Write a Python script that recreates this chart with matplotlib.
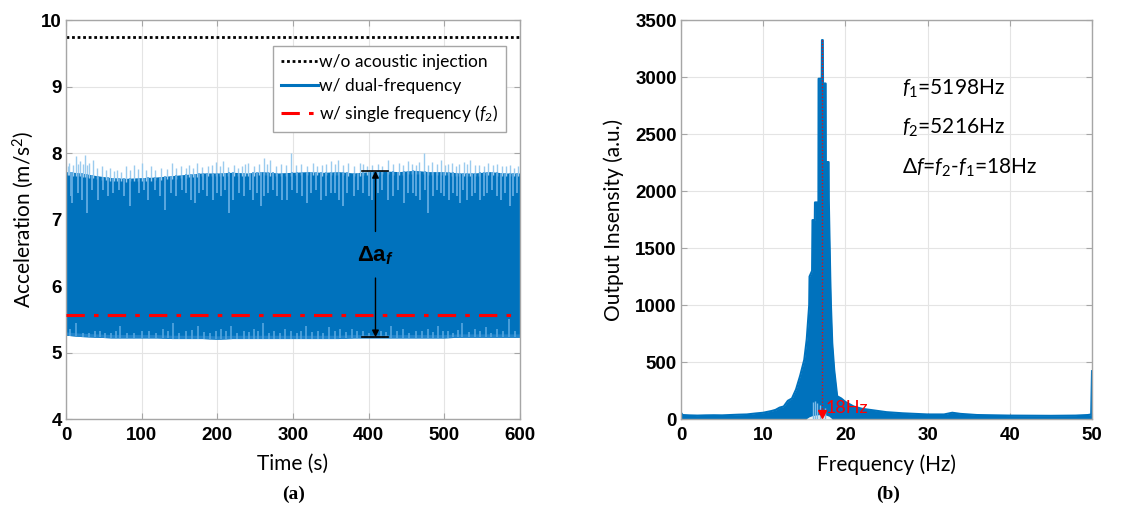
import numpy as np
import matplotlib
matplotlib.use('Agg')
import matplotlib.pyplot as plt

plt.rcParams['font.family'] = ['Lato', 'DejaVu Sans']
plt.rcParams['mathtext.fontset'] = 'custom'
plt.rcParams['mathtext.rm'] = 'Lato'
plt.rcParams['mathtext.it'] = 'Lato:italic'
plt.rcParams['mathtext.bf'] = 'Liberation Sans:bold'
plt.rcParams['mathtext.bfit'] = 'Liberation Sans:bold:italic'

BLUE = '#0072BD'
TICK_FONT = dict(fontweight='bold', family=['Liberation Sans', 'DejaVu Sans'], fontsize=13.5)

# ---- (a) acceleration, envelope of the dense dual-frequency signal ----
env_t = [0, 20, 40, 60, 80, 100, 120, 140, 160, 180, 200, 220, 240, 260, 280, 300,
         320, 340, 360, 380, 400, 420, 440, 460, 480, 500, 520, 540, 560, 580, 600]
env_upper = [7.72, 7.70, 7.66, 7.63, 7.62, 7.63, 7.64, 7.66, 7.68, 7.70, 7.70, 7.71, 7.70,
             7.72, 7.70, 7.71, 7.72, 7.71, 7.72, 7.70, 7.72, 7.73, 7.72, 7.74, 7.72, 7.72,
             7.70, 7.70, 7.72, 7.70, 7.70]
env_lower = [5.26, 5.24, 5.23, 5.22, 5.22, 5.22, 5.22, 5.21, 5.21, 5.21, 5.20, 5.21, 5.21,
             5.21, 5.21, 5.21, 5.21, 5.21, 5.21, 5.22, 5.22, 5.22, 5.22, 5.22, 5.22, 5.22,
             5.23, 5.23, 5.23, 5.23, 5.23]

# spikes poking above the band
spike_t = [2, 4, 9, 13, 16, 19, 22, 25, 28, 31, 36, 41, 48, 53, 58, 63, 67, 73, 79, 85,
           90, 95, 100, 106, 112, 118, 125, 133, 140, 146, 152, 158, 163, 168, 173, 180,
           188, 193, 198, 203, 208, 214, 222, 227, 232, 237, 241, 248, 255, 262, 266, 270,
           277, 284, 291, 298, 304, 310, 318, 326, 332, 338, 344, 350, 355, 360, 366, 373,
           380, 388, 393, 398, 405, 412, 418, 425, 432, 440, 446, 452, 457, 462, 467, 473,
           479, 484, 490, 496, 501, 505, 510, 515, 520, 526, 530, 534, 540, 546, 552, 558,
           564, 570, 576, 581, 587, 592, 597]
spike_v = [7.80, 7.85, 7.82, 7.95, 7.84, 7.88, 7.83, 7.97, 7.82, 7.85, 7.90, 7.78, 7.80,
           7.74, 7.78, 7.73, 7.75, 7.72, 7.80, 7.74, 7.82, 7.76, 7.85, 7.75, 7.80, 7.74,
           7.78, 7.76, 7.85, 7.78, 7.80, 7.77, 7.82, 7.78, 7.85, 7.79, 7.80, 7.82, 7.86,
           7.80, 7.88, 7.79, 7.82, 7.78, 7.80, 7.83, 7.85, 7.80, 7.83, 7.92, 7.84, 7.90,
           7.80, 7.84, 7.82, 8.00, 7.82, 7.84, 7.80, 7.85, 7.81, 7.82, 7.84, 7.88, 7.83,
           7.90, 7.82, 7.85, 7.81, 7.85, 7.83, 7.80, 7.82, 7.84, 7.81, 7.90, 7.83, 7.85,
           7.82, 7.88, 7.83, 7.82, 7.86, 8.00, 7.82, 7.86, 7.83, 7.90, 7.82, 7.84, 7.85,
           7.80, 7.83, 7.86, 7.84, 7.90, 7.82, 7.82, 7.80, 7.85, 7.82, 7.83, 7.80, 7.80,
           7.82, 7.78, 7.80]

# light streaks hanging down from the top of the band
streak_t = [6, 8, 16, 21, 28, 34, 42, 49, 55, 62, 70, 77, 85, 96, 103, 108, 118, 124,
            131, 139, 146, 153, 158, 165, 170, 176, 181, 187, 194, 200, 205, 210, 215, 221,
            228, 235, 243, 247, 253, 258, 262, 267, 273, 279, 286, 292, 299, 305, 312, 318,
            324, 331, 337, 344, 350, 356, 361, 366, 372, 380, 386, 393, 400, 405, 412, 418,
            425, 432, 439, 447, 452, 458, 463, 468, 474, 479, 485, 490, 495, 500, 506, 511,
            517, 521, 525, 530, 536, 541, 547, 552, 557, 563, 569, 575, 580, 587, 591, 596]
streak_v = [7.35, 7.25, 7.40, 7.30, 7.10, 7.45, 7.30, 7.45, 7.35, 7.40, 7.45, 7.35, 7.20,
            7.40, 7.45, 7.30, 7.45, 7.35, 7.15, 7.40, 7.35, 7.45, 7.40, 7.30, 7.25, 7.40,
            7.45, 7.35, 7.30, 7.40, 7.35, 7.45, 7.10, 7.30, 7.40, 7.35, 7.45, 7.30, 7.40,
            7.20, 7.35, 7.40, 7.45, 7.35, 7.30, 7.30, 7.45, 7.40, 7.35, 7.25, 7.40, 7.45,
            7.30, 7.35, 7.40, 7.40, 7.30, 7.20, 7.40, 7.35, 7.45, 7.40, 7.35, 7.30, 7.40,
            7.45, 7.30, 7.35, 7.45, 7.25, 7.40, 7.40, 7.35, 7.30, 7.45, 7.10, 7.35, 7.45,
            7.40, 7.35, 7.30, 7.40, 7.35, 7.25, 7.45, 7.30, 7.35, 7.40, 7.30, 7.35, 7.40,
            7.45, 7.35, 7.30, 7.40, 7.20, 7.35, 7.40]

# light streaks rising from the bottom of the band
bstreak_t = [5, 13, 22, 30, 38, 45, 52, 60, 66, 72, 81, 90, 100, 110, 119, 128, 135, 142,
             150, 158, 166, 175, 182, 190, 198, 205, 212, 218, 226, 235, 242, 248, 254, 260,
             268, 275, 283, 290, 298, 305, 311, 317, 325, 333, 340, 348, 355, 362, 370, 378,
             385, 392, 400, 408, 416, 423, 430, 438, 445, 453, 462, 470, 478, 485, 491, 498,
             505, 512, 518, 524, 532, 540, 547, 555, 562, 570, 578, 586, 593]
bstreak_v = [5.35, 5.45, 5.30, 5.30, 5.33, 5.32, 5.30, 5.30, 5.33, 5.40, 5.30, 5.30, 5.32,
             5.33, 5.30, 5.35, 5.33, 5.45, 5.30, 5.32, 5.34, 5.40, 5.31, 5.30, 5.33, 5.35,
             5.32, 5.40, 5.30, 5.33, 5.31, 5.35, 5.32, 5.45, 5.30, 5.32, 5.30, 5.35, 5.32,
             5.30, 5.33, 5.40, 5.31, 5.33, 5.30, 5.38, 5.32, 5.35, 5.31, 5.35, 5.32, 5.33,
             5.30, 5.32, 5.33, 5.31, 5.40, 5.32, 5.35, 5.30, 5.32, 5.33, 5.35, 5.31, 5.40,
             5.32, 5.33, 5.30, 5.34, 5.45, 5.31, 5.35, 5.32, 5.38, 5.30, 5.35, 5.32, 5.50,
             5.33]

no_injection = 9.75
single_freq = 5.56
delta_t = 409
delta_top = 7.73
delta_bot = 5.23

# ---- (b) spectrum envelope ----
spec_f = [0.0, 0.2, 1, 2, 3, 4, 5, 6, 7, 8, 9, 10, 11, 11.5, 12, 12.5, 13, 13.5, 14,
          14.5, 15, 15.3, 15.6, 15.64, 15.95, 16.0, 16.28, 16.3, 16.72, 16.74, 17.12,
          17.15, 17.25, 17.28, 17.6, 17.62, 17.96, 17.98, 18.16, 18.24, 18.4, 18.64, 19.0,
          19.5, 20, 21, 22, 23, 24, 25, 27, 30, 32, 33, 34, 36, 40, 45, 48, 49.5, 49.9, 50]
spec_a = [55, 35, 32, 30, 32, 33, 32, 35, 38, 40, 48, 55, 70, 80, 100, 110, 160, 180, 260,
          380, 520, 700, 1000, 1250, 1300, 1745, 1745, 1900, 1900, 2985, 2985,
          3324, 3324, 2943, 2943, 2254, 2254, 1925, 1240, 1000, 668, 431, 200,
          180, 150, 110, 90, 80, 70, 60, 50, 40, 40, 55, 45, 35, 30, 28, 30, 35, 40, 420]
notch_f = [15.2, 15.6, 16.0, 16.4, 16.8, 17.2, 17.6, 18.0, 18.4]
notch_h = [0, 20, 30, 35, 38, 38, 35, 25, 0]
nspike_f = [16.0, 16.3, 16.5, 16.9, 17.5]
nspike_v = [150, 160, 140, 120, 100]
peak_f = 17.2

fig = plt.figure(figsize=(11.28, 5.13), dpi=100)
ax1 = fig.add_axes([0.0585, 0.1832, 0.4025, 0.7778])
ax2 = fig.add_axes([0.6037, 0.1832, 0.3644, 0.7778])

for ax in (ax1, ax2):
    ax.grid(True, color='#E4E4E4', lw=0.8)
    ax.set_axisbelow(True)
    for s in ax.spines.values():
        s.set_color('#A6A6A6')
        s.set_linewidth(1.0)
    ax.tick_params(direction='in', top=True, right=True, color='#A6A6A6', length=4, pad=3)
    ax.tick_params(axis='x', pad=6)

# panel a
ax1.axhline(no_injection, color='black', ls=(0, (1, 1)), lw=2,
            label='w/o acoustic injection')
ax1.fill_between(env_t, env_lower, env_upper, color=BLUE, lw=0, zorder=2)
ax1.plot([], [], color=BLUE, lw=2.2, label='w/ dual-frequency')
ax1.fill_between(env_t, env_lower, np.array(env_lower) + 0.05, color='#1F84CC', lw=0, zorder=2)
ax1.vlines(spike_t, np.interp(spike_t, env_t, env_upper) - 0.05, spike_v,
           color='#9ACBEE', lw=1.0, zorder=3)
ax1.vlines(streak_t, streak_v, np.interp(streak_t, env_t, env_upper),
           color='#62ACE2', lw=1.3, zorder=3)
ax1.vlines(bstreak_t, np.interp(bstreak_t, env_t, env_lower), bstreak_v,
           color='#4FA2DD', lw=1.3, zorder=3)
ax1.axhline(single_freq, color='red', ls=(0, (6, 3, 1.5, 3)), lw=2.2, zorder=4,
            label='w/ single frequency ($\\mathit{f}_2$)')

ax1.plot([delta_t - 18, delta_t + 17], [delta_top, delta_top], color='black', lw=1.2, zorder=5)
ax1.plot([delta_t - 18, delta_t + 17], [delta_bot, delta_bot], color='black', lw=1.2, zorder=5)
ax1.annotate('', xy=(delta_t, delta_top), xytext=(delta_t, 6.82),
             arrowprops=dict(arrowstyle='-|>', color='black', lw=1.0,
                             mutation_scale=10, shrinkA=0, shrinkB=0), zorder=5)
ax1.annotate('', xy=(delta_t, delta_bot), xytext=(delta_t, 6.12),
             arrowprops=dict(arrowstyle='-|>', color='black', lw=1.0,
                             mutation_scale=10, shrinkA=0, shrinkB=0), zorder=5)
ax1.text(delta_t, 6.45, r'$\mathbf{\Delta a}_{\mathbfit{f}}$', ha='center', va='center',
         fontsize=16, zorder=5)

ax1.set_xlim(0, 600)
ax1.set_ylim(4, 10)
ax1.set_xticks(range(0, 601, 100))
ax1.set_xticklabels([str(v) for v in range(0, 601, 100)], **TICK_FONT)
ax1.set_yticks(range(4, 11))
ax1.set_yticklabels([str(v) for v in range(4, 11)], **TICK_FONT)
ax1.set_xlabel('Time (s)', fontsize=15, labelpad=7)
ax1.set_ylabel('Acceleration (m/s$^2$)', fontsize=15, labelpad=4)
leg = ax1.legend(loc='upper right', bbox_to_anchor=(0.97, 0.935), borderaxespad=0,
                 fontsize=12.5, handlelength=2.1, handletextpad=0.1, labelspacing=0.5,
                 fancybox=False, framealpha=1, edgecolor='#A6A6A6', borderpad=0.45)
leg.get_frame().set_linewidth(1.0)

# panel b
ax2.fill_between(spec_f, 0, spec_a, color=BLUE, lw=0, zorder=2)
ax2.plot(spec_f, spec_a, color=BLUE, lw=1.5, zorder=2)
ax2.fill_between(notch_f, 0, notch_h, color='#EEEEEE', lw=0, zorder=3)
ax2.vlines(nspike_f, 0, nspike_v, color='#7DBBE8', lw=1.0, zorder=3)
ax2.plot([peak_f, peak_f], [max(spec_a), 40], color='red', ls=':', lw=0.9, zorder=4)
ax2.plot([peak_f], [40], marker='v', color='red', ms=6, zorder=4, clip_on=False)
ax2.text(peak_f + 0.35, 25, '18Hz', color='red', fontsize=13, ha='left', va='bottom', zorder=5)

ax2.text(26.9, 2895, '$f_1$=5198Hz', fontsize=15, va='center')
ax2.text(26.9, 2552, '$f_2$=5216Hz', fontsize=15, va='center')
ax2.text(26.9, 2200, '$\\mathit{\\Delta f}$=$f_2$-$f_1$=18Hz', fontsize=15, va='center')

ax2.set_xlim(0, 50)
ax2.set_ylim(0, 3500)
ax2.set_xticks(range(0, 51, 10))
ax2.set_xticklabels([str(v) for v in range(0, 51, 10)], **TICK_FONT)
ax2.set_yticks(range(0, 3501, 500))
ax2.set_yticklabels([str(v) for v in range(0, 3501, 500)], **TICK_FONT)
ax2.set_xlabel('Frequency (Hz)', fontsize=15, labelpad=7)
ax2.set_ylabel('Output Insensity (a.u.)', fontsize=15, labelpad=8)

fig.text(0.260, 0.037, '(a)', ha='center', va='center', fontsize=14,
         family='Liberation Serif', fontweight='bold')
fig.text(0.787, 0.037, '(b)', ha='center', va='center', fontsize=14,
         family='Liberation Serif', fontweight='bold')

fig.savefig('out.png', dpi=100)
